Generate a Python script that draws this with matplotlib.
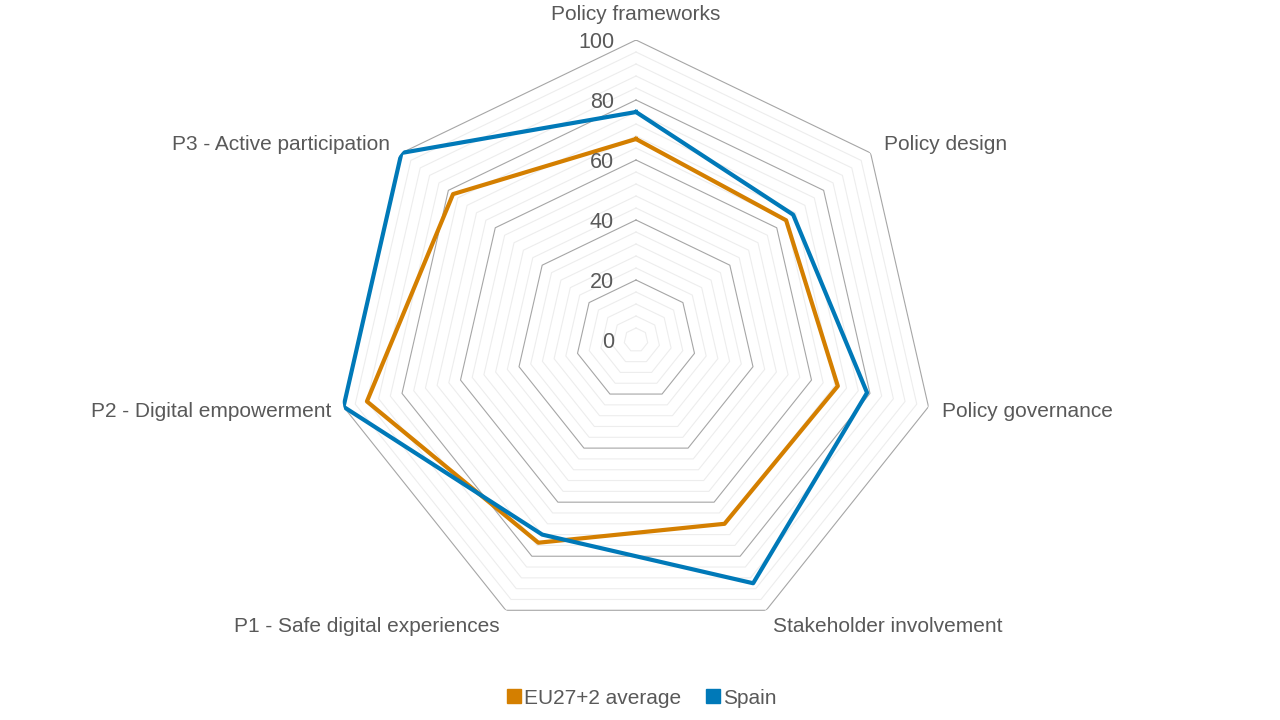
import numpy as np
import matplotlib.pyplot as plt
from matplotlib.lines import Line2D

plt.rcParams['font.family'] = ['Liberation Sans', 'DejaVu Sans']

categories = ['Policy frameworks', 'Policy design', 'Policy governance',
              'Stakeholder involvement', 'P1 - Safe digital experiences',
              'P2 - Digital empowerment', 'P3 - Active participation']
eu_avg = [67, 64, 69, 68, 75, 92, 78]
spain = [76, 67, 79, 90, 72, 100, 100]
series_names = ['EU27+2 average', 'Spain']
tick_values = [0, 20, 40, 60, 80, 100]

orange = '#D47F00'
blue = '#0079B8'
text_col = '#595959'

fig = plt.figure(figsize=(12.8, 7.2), dpi=100)
# center at (636, 340) px, radius 300 px
cx, cy = 636 / 1280, 1 - 340 / 720
w, h = 600 / 1280, 600 / 720
ax = fig.add_axes([cx - w / 2, cy - h / 2, w, h], projection='polar')
ax.set_theta_zero_location('N')
ax.set_theta_direction(-1)
ax.set_ylim(0, 100)
ax.set_xticks([])
ax.set_yticks([])
ax.grid(False)
ax.spines['polar'].set_visible(False)
ax.patch.set_visible(False)

n = len(categories)
theta = np.linspace(0, 2 * np.pi, n, endpoint=False)
theta_c = np.append(theta, theta[0])

# polygon grid
for r in range(4, 101, 4):
    major = r % 20 == 0
    ax.plot(theta_c, [r] * (n + 1), color='#A6A6A6' if major else '#EDEDED',
            lw=0.8, zorder=1 if major else 0.5)

ax.plot(theta_c, eu_avg + eu_avg[:1], color=orange, lw=3, zorder=3)
ax.plot(theta_c, spain + spain[:1], color=blue, lw=3, zorder=4)

# radial tick labels
for v in tick_values:
    ax.annotate(str(v), xy=(0, v), xytext=(-22 * 0.72, -1.5), textcoords='offset points',
                ha='right', va='center', fontsize=15.5, color=text_col)

# category labels (offsets in px)
offsets = [(0, 25, 'center'), (13, 8, 'left'), (14, -5, 'left'), (7, -16, 'left'),
           (-6, -16, 'right'), (-12, -5, 'right'), (-11, 8, 'right')]
for t, lab, (dx, dy, ha) in zip(theta, categories, offsets):
    ax.annotate(lab, xy=(t, 100), xytext=(dx * 0.72, dy * 0.72), textcoords='offset points',
                ha=ha, va='center', fontsize=15, color=text_col, annotation_clip=False)

handles = [Line2D([], [], marker='s', ls='none', color=c, markersize=9.5)
           for c in (orange, blue)]
fig.legend(handles, series_names, loc='center', bbox_to_anchor=(0.5, 1 - 698 / 720),
           ncol=2, frameon=False, fontsize=15, labelcolor=text_col,
           handletextpad=0.0, columnspacing=1.0, handlelength=1.0)

fig.savefig('out.png', dpi=100)
